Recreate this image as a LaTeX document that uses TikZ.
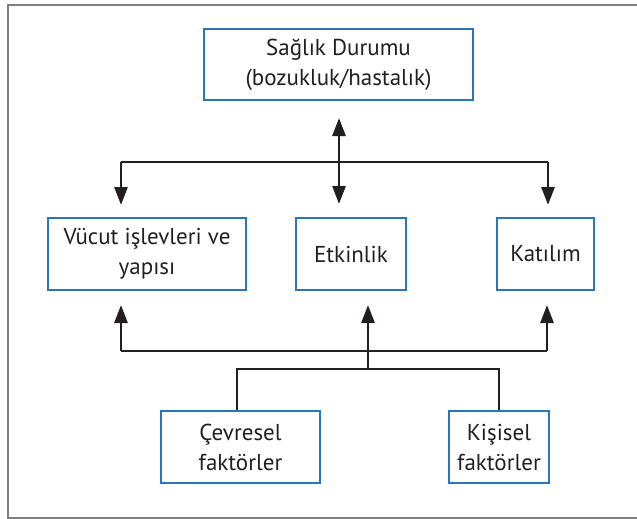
\documentclass[tikz,border=0pt]{standalone}
\usepackage{fontspec}
\setmainfont{PT Sans}
\usetikzlibrary{arrows.meta}
\definecolor{boxblue}{HTML}{2A76BB}
\definecolor{inkc}{HTML}{231F20}
\definecolor{framec}{HTML}{7F7F7F}
\begin{document}
\begin{tikzpicture}[x=1pt,y=-1pt,
  box/.style={draw=boxblue, line width=1.3pt, text=inkc, align=center,
    inner sep=0pt, minimum height=72pt, font=\fontsize{23}{30}\selectfont},
  conn/.style={draw=inkc, line width=2.8pt},
  arr/.style={conn, -{Triangle[length=18pt,width=13pt]}},
  darr/.style={conn, {Triangle[length=18pt,width=13pt]}-{Triangle[length=18pt,width=13pt]}}]
\useasboundingbox (0,0) rectangle (637,519);
\clip (0,0) rectangle (637,519);
\draw[framec, line width=2.2pt] (8,5) rectangle (660,518);
\node[box, minimum width=269pt, minimum height=71pt] (top) at (338.5,64.5) {Sağlık Durumu\\(bozukluk/hastalık)};
\node[box, minimum width=198pt] (vucut) at (147,254) {Vücut işlevleri ve\\yapısı};
\node[box, minimum width=110pt] (etk) at (351,254) {Etkinlik};
\node[box, minimum width=97pt] (kat) at (545.5,254) {Katılım};
\node[box, minimum width=159pt] (cev) at (240.5,447) {Çevresel\\faktörler};
\node[box, minimum width=100pt] (kis) at (499,447) {Kişisel\\faktörler};
% top connectors
\coordinate (tA) at (339,118);
\coordinate (tB) at (339,204);
\coordinate (hL) at (121,162);
\coordinate (hR) at (548,162);
\coordinate (vL) at (121,205);
\coordinate (vR) at (548,205);
\draw[darr] (tA) -- (tB);
\draw[conn] (hL) -- (hR);
\draw[arr] (hL) -- (vL);
\draw[arr] (hR) -- (vR);
% bottom connectors
\coordinate (bL) at (121,351);
\coordinate (bR) at (547,351);
\coordinate (bM) at (368,369);
\coordinate (uL) at (121,305);
\coordinate (uR) at (547,305);
\coordinate (uM) at (368,305);
\coordinate (kL) at (237,369);
\coordinate (kR) at (499,369);
\draw[conn] (bL) -- (bR);
\draw[arr] (bL) -- (uL);
\draw[arr] (bR) -- (uR);
\draw[arr] (bM) -- (uM);
\draw[conn] (cev.north -| kL) -- (kL) -- (kR) -- (kis.north -| kR);
\end{tikzpicture}
\end{document}
